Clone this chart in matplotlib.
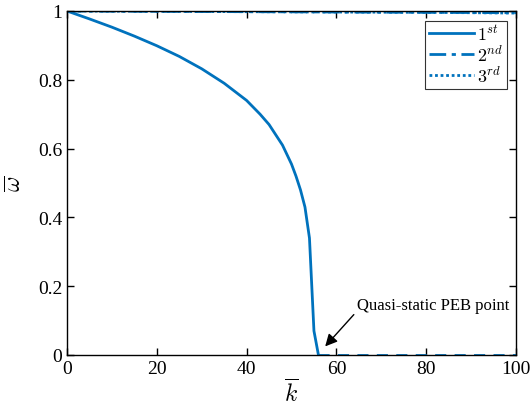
import matplotlib
matplotlib.use("Agg")
import numpy as np
from matplotlib import pyplot as plt

plt.rcParams['font.family'] = ['Liberation Serif', 'DejaVu Serif']
plt.rcParams['mathtext.fontset'] = 'cm'

# first mode
k1 = [0, 5, 10, 15, 20, 25, 30, 35, 40, 43, 45, 48, 50, 51, 52, 53, 54, 55, 56]
w1 = [1.0, 0.977, 0.953, 0.927, 0.899, 0.868, 0.832, 0.79, 0.74, 0.70, 0.67, 0.61, 0.555,
      0.52, 0.48, 0.43, 0.34, 0.07, 0.0]
# branch lying on zero after the PEB point
k0 = [56, 100]
w0 = [0.0, 0.0]
# second and third modes near one
k2 = [0, 20, 40, 60, 80, 100]
w2 = [1.0, 0.999, 0.998, 0.997, 0.996, 0.995]
k3 = [0, 20, 40, 60, 80, 100]
w3 = [1.0, 0.999, 0.998, 0.997, 0.996, 0.994]

col = "#0072BD"

fig = plt.figure(figsize=(5.30, 4.14), dpi=100)
ax = fig.add_axes([67/530, 1-356/414, (516-67)/530, (356-12)/414])

ax.plot(k1, w1, color=col, lw=2, label=r"$1^{st}$")
ax.plot(k2, w2, color=col, lw=2, ls=(0, (6, 2, 1.5, 2)), label=r"$2^{nd}$")
ax.plot(k3, w3, color=col, lw=2, ls=(0, (1, 1)), label=r"$3^{rd}$")
ax.plot(k0, w0, color=col, lw=2, ls=(0, (4, 3)))

ax.set_xlim(0, 100)
ax.set_ylim(0, 1)
ax.set_xticks([0, 20, 40, 60, 80, 100])
ax.set_yticks([0, 0.2, 0.4, 0.6, 0.8, 1])
ax.set_yticklabels(["0", "0.2", "0.4", "0.6", "0.8", "1"])
ax.tick_params(direction="in", top=True, right=True, labelsize=14, length=5, width=1)
for s in ax.spines.values():
    s.set_linewidth(1)

ax.set_xlabel(r"$\overline{k}$", fontsize=17, labelpad=2)
ax.set_ylabel(r"$\overline{\omega}$", fontsize=17, labelpad=8)

ax.annotate("Quasi-static PEB point", xy=(57.5, 0.025), xytext=(64.5, 0.145),
            fontsize=12, va="center", ha="left",
            arrowprops=dict(arrowstyle="-|>", color="black", lw=1, mutation_scale=18,
                            shrinkA=0, shrinkB=0, relpos=(0, 0.1)))

leg = ax.legend(loc="upper right", bbox_to_anchor=(0.98, 0.972), fontsize=13,
                frameon=True, fancybox=False, edgecolor="black", handlelength=2.5,
                borderpad=0.2, labelspacing=0.05, handletextpad=0.2, borderaxespad=0)
leg.get_frame().set_linewidth(0.8)

fig.savefig("out.png", dpi=100)
